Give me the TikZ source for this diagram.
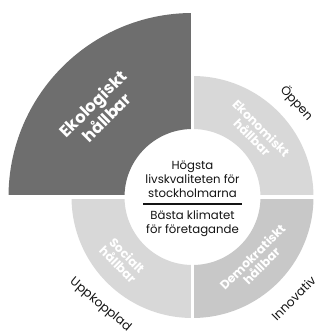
\documentclass[tikz,border=0pt]{standalone}
\usepackage{fontspec}
\setmainfont{Poppins}
\usepackage{tikz}
\definecolor{dark}{HTML}{6E6E6E}
\definecolor{light}{HTML}{D8D8D8}
\definecolor{mid}{HTML}{C8C8C8}
\definecolor{ink}{HTML}{141414}
\tikzset{
  bigseg/.style={fill=dark},
  smallseg/.style={fill=light},
  demoseg/.style={fill=mid},
  gap/.style={draw=white, line width=2.6pt},
  seglab/.style={text=white, font=\fontsize{14}{15}\selectfont\bfseries, align=center, inner sep=0pt},
  smalllab/.style={text=white, font=\fontsize{10.5}{11}\selectfont\bfseries, align=center, inner sep=0pt},
  outlab/.style={text=ink, font=\fontsize{10.5}{12}\selectfont, inner sep=0pt},
  goal/.style={text=ink, font=\fontsize{10}{12}\selectfont, align=center, inner sep=0pt},
  divider/.style={draw=ink, line width=1pt}
}

\begin{document}
\begin{tikzpicture}[x=0.03cm, y=0.03cm]
  \useasboundingbox (0,0) rectangle (320,335);
  \coordinate (C) at (192.5,138);

  \begin{scope}[shift={(C)}]
    % segments
    \fill[bigseg] (90:184) arc[start angle=90, end angle=180, radius=184]
      -- (180:68) arc[start angle=180, end angle=90, radius=68] -- cycle;
    \fill[smallseg] (0:121) arc[start angle=0, end angle=90, radius=121]
      -- (90:68) arc[start angle=90, end angle=0, radius=68] -- cycle;
    \fill[smallseg] (180:121) arc[start angle=180, end angle=270, radius=121]
      -- (270:68) arc[start angle=270, end angle=180, radius=68] -- cycle;
    \fill[demoseg] (270:121) arc[start angle=270, end angle=360, radius=121]
      -- (360:68) arc[start angle=360, end angle=270, radius=68] -- cycle;
    \draw[gap] (-190,0) -- (190,0);
    \draw[gap] (0,-190) -- (0,190);

    % labels in the segments
    \node[seglab, rotate=45] (eko) at (137:127) {Ekologiskt\\hållbar};
    \node[smalllab, rotate=-45] (ekon) at (45:91) {Ekonomiskt\\hållbar};
    \node[smalllab, rotate=-45] (soc) at (222:94) {Socialt\\hållbar};
    \node[smalllab, rotate=45] (demo) at (-45:91) {Demokratiskt\\hållbar};

    % outer labels
    \node[outlab, rotate=-48] (oppen) at (42:140) {Öppen};
    \node[outlab, rotate=45] (innov) at (-45:143) {Innovativ};
    \node[outlab, rotate=-40] (uppk) at (229.5:142) {Uppkopplad};

    % centre
    \coordinate (divL) at (-49.5,-7);
    \coordinate (divR) at (49.5,-7);
    \node[goal, anchor=south] (goal1) at (0,-1) {Högsta\\livskvaliteten för\\stockholmarna};
    \node[goal, anchor=north] (goal2) at (0,-13) {Bästa klimatet\\för företagande};
  \end{scope}
  \draw[divider] (divL) -- (divR);
\end{tikzpicture}
\end{document}
